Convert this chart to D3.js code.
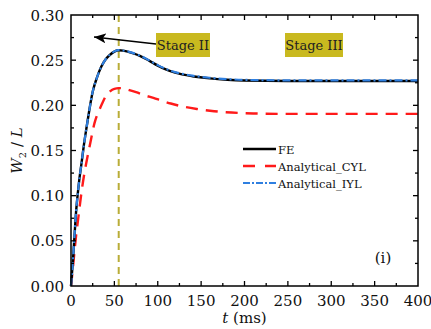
<!DOCTYPE html>
<html>
<head>
<meta charset="utf-8">
<script src="https://cdn.jsdelivr.net/npm/d3@7/dist/d3.min.js"></script>
<style>
  html, body { margin: 0; padding: 0; background: #fff; }
  svg { display: block; }
</style>
</head>
<body>
<svg id="chart" width="431" height="329"></svg>
<script>
// Time samples (ms) shared by the FE and IYL series
const timeMs = [0, 2, 4, 6, 8, 10, 12, 15, 18, 21, 25, 30, 35, 40, 45, 50, 55, 60, 70, 80, 90, 100, 110, 120, 140, 160, 180, 200, 250, 300, 350, 400];

// Normalised width W2/L
const feValues  = [0, 0.025, 0.055, 0.084, 0.104, 0.121, 0.135, 0.157, 0.176, 0.194, 0.215, 0.231, 0.243, 0.251, 0.256, 0.2595, 0.261, 0.2605, 0.258, 0.2545, 0.2495, 0.2440, 0.2395, 0.2362, 0.2322, 0.2298, 0.2283, 0.2275, 0.2270, 0.2270, 0.2270, 0.2270];
const iylValues = [0, 0.025, 0.055, 0.084, 0.104, 0.121, 0.135, 0.157, 0.176, 0.194, 0.215, 0.231, 0.243, 0.251, 0.256, 0.2597, 0.2612, 0.2607, 0.2583, 0.2548, 0.2498, 0.2445, 0.2400, 0.2368, 0.2328, 0.2305, 0.2290, 0.2282, 0.2277, 0.2277, 0.2277, 0.2277];
const cylTime   = [0, 2, 4, 6, 8, 10, 13, 16, 19, 23, 27, 30, 35, 40, 45, 50, 55, 60, 65, 75, 85, 95, 105, 115, 130, 145, 165, 185, 210, 250, 300, 350, 400];
const cylValues = [0, 0.018, 0.038, 0.057, 0.072, 0.088, 0.110, 0.128, 0.143, 0.162, 0.180, 0.189, 0.200, 0.210, 0.2155, 0.2183, 0.219, 0.219, 0.2175, 0.2145, 0.2110, 0.2083, 0.2050, 0.2020, 0.1985, 0.1960, 0.1935, 0.1920, 0.1910, 0.1905, 0.1905, 0.1905, 0.1905];

const xTicks = [0, 50, 100, 150, 200, 250, 300, 350, 400];
const yTicks = [0.00, 0.05, 0.10, 0.15, 0.20, 0.25, 0.30];
const stageBoundary = 55;

const legendItems = [
  { label: "FE", key: "fe" },
  { label: "Analytical_CYL", key: "cyl" },
  { label: "Analytical_IYL", key: "iyl" }
];

const styles = {
  fe:  { color: "#000000", width: 2.4, dash: null },
  cyl: { color: "#ff1a1a", width: 2.4, dash: "12,8" },
  iyl: { color: "#2f7fe0", width: 2.2, dash: "8,3,2,3" }
};

const FONT = "'DejaVu Serif', 'Liberation Serif', serif";

const svg = d3.select("#chart")
  .attr("font-family", FONT)
  .style("font-family", FONT);
const margin = { left: 71, top: 15, right: 13, bottom: 43 };
const W = 431, H = 329;
const x = d3.scaleLinear().domain([0, 400]).range([margin.left, W - margin.right]);
const y = d3.scaleLinear().domain([0, 0.30]).range([H - margin.bottom, margin.top]);

const x0 = x.range()[0], x1 = x.range()[1];
const y0 = y.range()[0], y1 = y.range()[1];

function label(sel) {
  return sel.append("text").attr("font-family", FONT).style("font-family", FONT).attr("fill", "#111");
}

// Stage boundary marker
svg.append("line")
  .attr("x1", x(stageBoundary)).attr("x2", x(stageBoundary))
  .attr("y1", y0).attr("y2", y1)
  .attr("stroke", "#b9ad38").attr("stroke-width", 2)
  .attr("stroke-dasharray", "7,5");

// Curves
const line = d3.line().x(d => x(d[0])).y(d => y(d[1])).curve(d3.curveMonotoneX);
const series = [
  { key: "cyl", t: cylTime, v: cylValues },
  { key: "fe",  t: timeMs,  v: feValues },
  { key: "iyl", t: timeMs,  v: iylValues }
];
series.forEach(s => {
  const st = styles[s.key];
  svg.append("path")
    .datum(s.t.map((t, i) => [t, s.v[i]]))
    .attr("d", line)
    .attr("fill", "none")
    .attr("stroke", st.color)
    .attr("stroke-width", st.width)
    .attr("stroke-dasharray", st.dash);
});

// Frame with inward ticks on all sides
const axisG = svg.append("g");
const tickX = d3.range(0, 401, 25);
const tickY = d3.range(0, 0.3001, 0.025);
tickX.forEach(t => {
  if (t === 0 || t === 400) return;
  const len = (t % 50 === 0) ? 5 : 3;
  axisG.append("line").attr("x1", x(t)).attr("x2", x(t)).attr("y1", y0).attr("y2", y0 - len)
    .attr("stroke", "#000").attr("stroke-width", 1.3);
  axisG.append("line").attr("x1", x(t)).attr("x2", x(t)).attr("y1", y1).attr("y2", y1 + len)
    .attr("stroke", "#000").attr("stroke-width", 1.3);
});
tickY.forEach((v, i) => {
  if (i === 0 || i === tickY.length - 1) return;
  const len = (i % 2 === 0) ? 5 : 3;
  axisG.append("line").attr("x1", x0).attr("x2", x0 + len).attr("y1", y(v)).attr("y2", y(v))
    .attr("stroke", "#000").attr("stroke-width", 1.3);
  axisG.append("line").attr("x1", x1).attr("x2", x1 - len).attr("y1", y(v)).attr("y2", y(v))
    .attr("stroke", "#000").attr("stroke-width", 1.3);
});
axisG.append("rect")
  .attr("x", x0).attr("y", y1).attr("width", x1 - x0).attr("height", y0 - y1)
  .attr("fill", "none").attr("stroke", "#000").attr("stroke-width", 1.5);

// Tick labels
xTicks.forEach(d => {
  label(svg).attr("x", x(d)).attr("y", y0 + 20)
    .attr("text-anchor", "middle").attr("font-size", 15).text(d);
});
yTicks.forEach(d => {
  label(svg).attr("x", x0 - 7).attr("y", y(d) + 5.5)
    .attr("text-anchor", "end").attr("font-size", 15).text(d3.format(".2f")(d));
});

// Axis titles
const xt = label(svg).attr("x", (x0 + x1) / 2).attr("y", 323)
  .attr("text-anchor", "middle").attr("font-size", 15);
xt.append("tspan").attr("font-style", "italic").text("t");
xt.append("tspan").text(" (ms)");

const yt = label(svg)
  .attr("transform", "translate(22," + ((y0 + y1) / 2) + ") rotate(-90)")
  .attr("text-anchor", "middle").attr("font-size", 15);
yt.append("tspan").attr("font-style", "italic").text("W");
yt.append("tspan").attr("font-size", 10).attr("dy", 4).text("2");
yt.append("tspan").attr("dy", -4).text(" / ");
yt.append("tspan").attr("font-style", "italic").text("L");

// Stage annotations
const stageBoxes = [
  { label: "Stage II", x: 156, w: 54 },
  { label: "Stage III", x: 285, w: 58 }
];
stageBoxes.forEach(b => {
  svg.append("rect").attr("x", b.x).attr("y", 33).attr("width", b.w).attr("height", 24)
    .attr("fill", "#c9b91f");
  label(svg).attr("x", b.x + b.w / 2).attr("y", 50)
    .attr("text-anchor", "middle").attr("font-size", 13).attr("fill", "#222")
    .text(b.label);
});

// Arrow pointing back toward the early stage
svg.append("defs").append("marker")
  .attr("id", "arrowHead").attr("viewBox", "0 0 12 10")
  .attr("refX", 12).attr("refY", 5)
  .attr("markerWidth", 12).attr("markerHeight", 10)
  .attr("markerUnits", "userSpaceOnUse").attr("orient", "auto")
  .append("path").attr("d", "M0,0 L12,5 L0,10 L3,5 Z").attr("fill", "#000");
svg.append("line").attr("x1", 156).attr("y1", 44).attr("x2", 94).attr("y2", 37)
  .attr("stroke", "#000").attr("stroke-width", 1.5)
  .attr("marker-end", "url(#arrowHead)");

// Legend
legendItems.forEach((it, i) => {
  const st = styles[it.key];
  const ly = [149, 166, 183][i];
  svg.append("line").attr("x1", 243).attr("x2", 276).attr("y1", ly).attr("y2", ly)
    .attr("stroke", st.color).attr("stroke-width", st.width)
    .attr("stroke-dasharray", it.key === "cyl" ? "12,10" : (it.key === "iyl" ? "7,2,2,2" : null));
  label(svg).attr("x", 278).attr("y", ly + 4.5)
    .attr("font-size", 11.5).text(it.label);
});

// Panel label
label(svg).attr("x", 383).attr("y", 263).attr("text-anchor", "middle")
  .attr("font-size", 15).text("(i)");
</script>
</body>
</html>
